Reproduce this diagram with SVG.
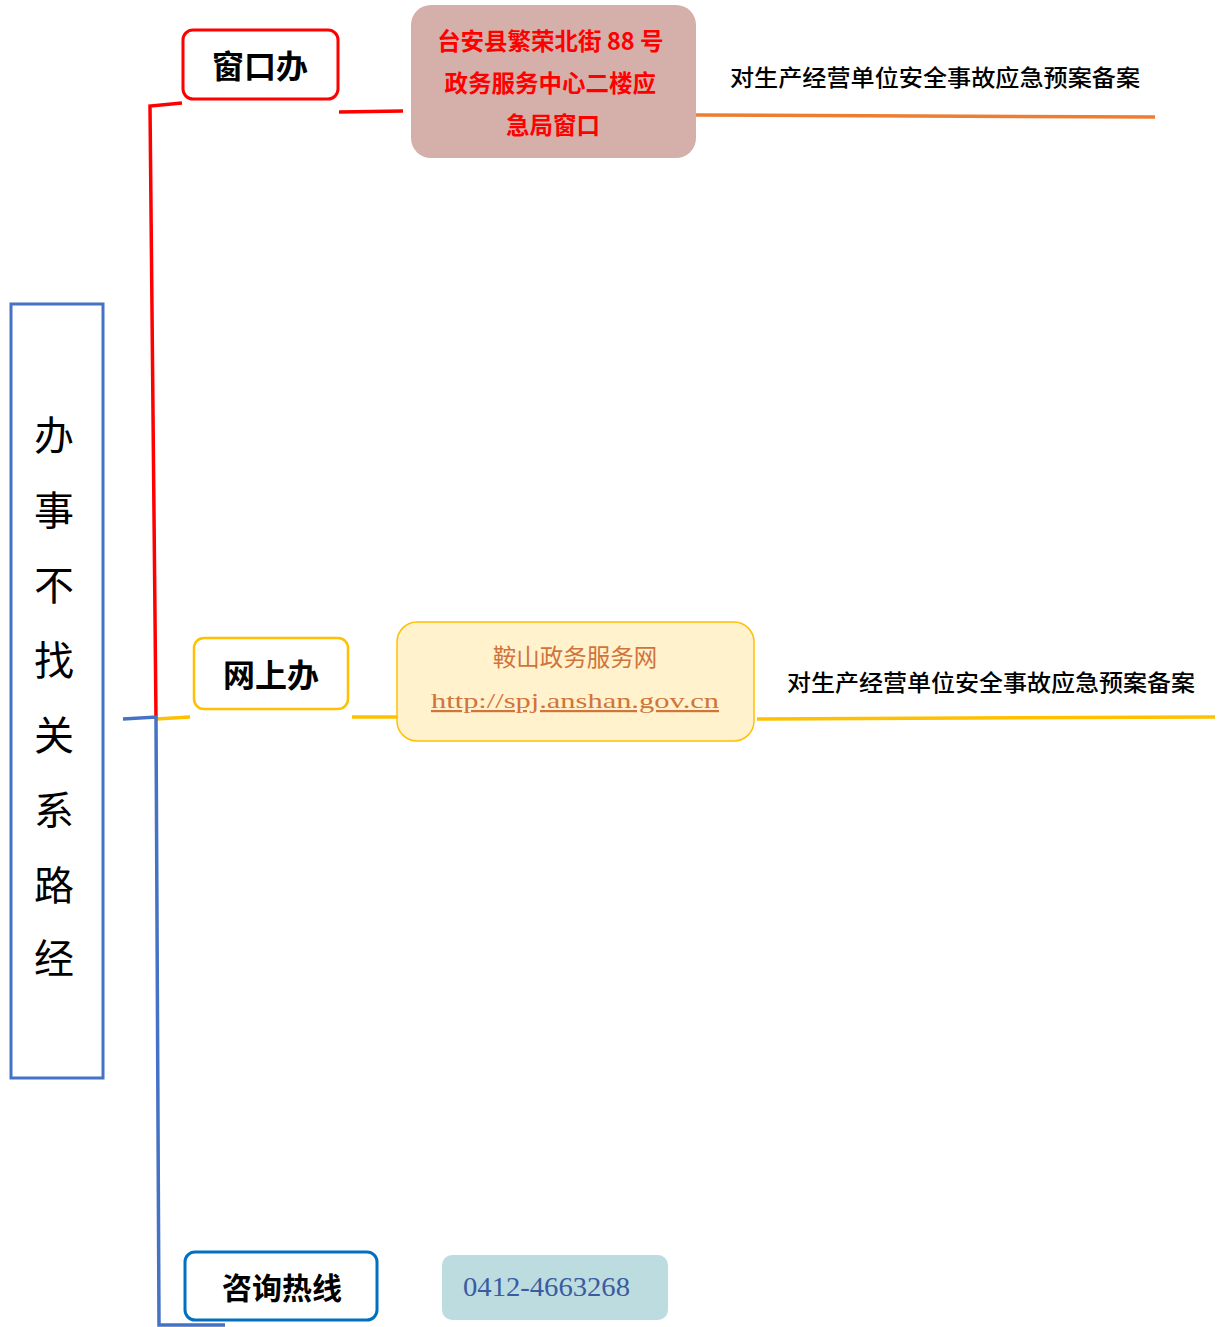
<svg xmlns="http://www.w3.org/2000/svg" width="1221" height="1327" viewBox="0 0 1221 1327">
<style>
.cn{font-family:"Noto Sans CJK SC","Liberation Sans",sans-serif;}
.lbl{font-family:"Noto Sans CJK SC","Liberation Sans",sans-serif;font-weight:bold;font-size:32px;fill:#000;text-anchor:middle;}
.lbl4{font-size:30px;}
.desc{font-family:"Noto Sans CJK SC","Liberation Sans",sans-serif;font-weight:500;font-size:23px;fill:#000;}
.vert{font-family:"Noto Sans CJK SC",sans-serif;font-size:40px;fill:#000;text-anchor:middle;}
.ln{fill:none;stroke-width:3.5;}
</style>
<rect width="1221" height="1327" fill="#fff"/>
<g id="connectors">
  <polyline class="ln" stroke="#FF0000" points="182,103 150,106 156,718"/>
  <line class="ln" stroke="#FF0000" x1="339" y1="112" x2="403" y2="111"/>
  <line class="ln" stroke="#ED7D31" x1="696" y1="115" x2="1155" y2="117"/>
  <line class="ln" stroke="#FFC000" x1="156" y1="719" x2="190" y2="717"/>
  <line class="ln" stroke="#FFC000" x1="352" y1="717" x2="397" y2="717"/>
  <line class="ln" stroke="#FFC000" x1="757" y1="719" x2="1215" y2="717"/>
  <polyline class="ln" stroke="#4472C4" points="123,719 156,717 159,1325 225,1325"/>
</g>
<g id="root">
  <rect x="11" y="304" width="92" height="774" fill="#fff" stroke="#4472C4" stroke-width="3"/>
  <text class="vert" x="54" y="450">办</text>
  <text class="vert" x="54" y="525">事</text>
  <text class="vert" x="54" y="600">不</text>
  <text class="vert" x="54" y="675">找</text>
  <text class="vert" x="54" y="750">关</text>
  <text class="vert" x="54" y="825">系</text>
  <text class="vert" x="54" y="900">路</text>
  <text class="vert" x="54" y="973">经</text>
</g>
<g id="node-window">
  <rect x="183" y="30" width="155" height="69" rx="10" fill="#fff" stroke="#FF0000" stroke-width="3"/>
  <text class="lbl" x="260" y="78">窗口办</text>
</g>
<g id="node-address">
  <rect x="411" y="5" width="285" height="153" rx="20" fill="#D5AFAA"/>
  <text class="cn" font-size="23.5" font-weight="bold" fill="#FF0000" text-anchor="middle">
    <tspan x="553" y="50">台安县繁荣北街 88 号</tspan>
    <tspan x="553" y="92">政务服务中心二楼应</tspan>
    <tspan x="553" y="134">急局窗口</tspan>
  </text>
</g>
<g id="node-desc1">
  <text class="desc" x="730" y="86" textLength="410" lengthAdjust="spacingAndGlyphs">对生产经营单位安全事故应急预案备案</text>
</g>
<g id="node-online">
  <rect x="194" y="638" width="154" height="71" rx="10" fill="#fff" stroke="#FFC000" stroke-width="2.5"/>
  <text class="lbl" x="271" y="687">网上办</text>
</g>
<g id="node-web">
  <rect x="397" y="622" width="357" height="119" rx="20" fill="#FFF2CC" stroke="#FFC000" stroke-width="1.5"/>
  <text class="cn" x="575" y="666" font-size="23.5" fill="#D0743C" text-anchor="middle">鞍山政务服务网</text>
  <text x="431" y="708" font-family="'Liberation Serif',serif" font-size="22" fill="#D0743C" text-decoration="underline" textLength="288" lengthAdjust="spacingAndGlyphs">http://spj.anshan.gov.cn</text>
</g>
<g id="node-desc2">
  <text class="desc" x="787" y="691" textLength="408" lengthAdjust="spacingAndGlyphs">对生产经营单位安全事故应急预案备案</text>
</g>
<g id="node-hotline">
  <rect x="185" y="1252" width="192" height="68" rx="10" fill="#fff" stroke="#0070C0" stroke-width="3"/>
  <text class="lbl lbl4" x="282" y="1299">咨询热线</text>
</g>
<g id="node-phone">
  <rect x="442" y="1255" width="226" height="65" rx="10" fill="#BCDCE0"/>
  <text x="463" y="1296" font-family="'Liberation Serif',serif" font-size="27" fill="#3A5BA0" textLength="167" lengthAdjust="spacingAndGlyphs">0412-4663268</text>
</g>
</svg>
